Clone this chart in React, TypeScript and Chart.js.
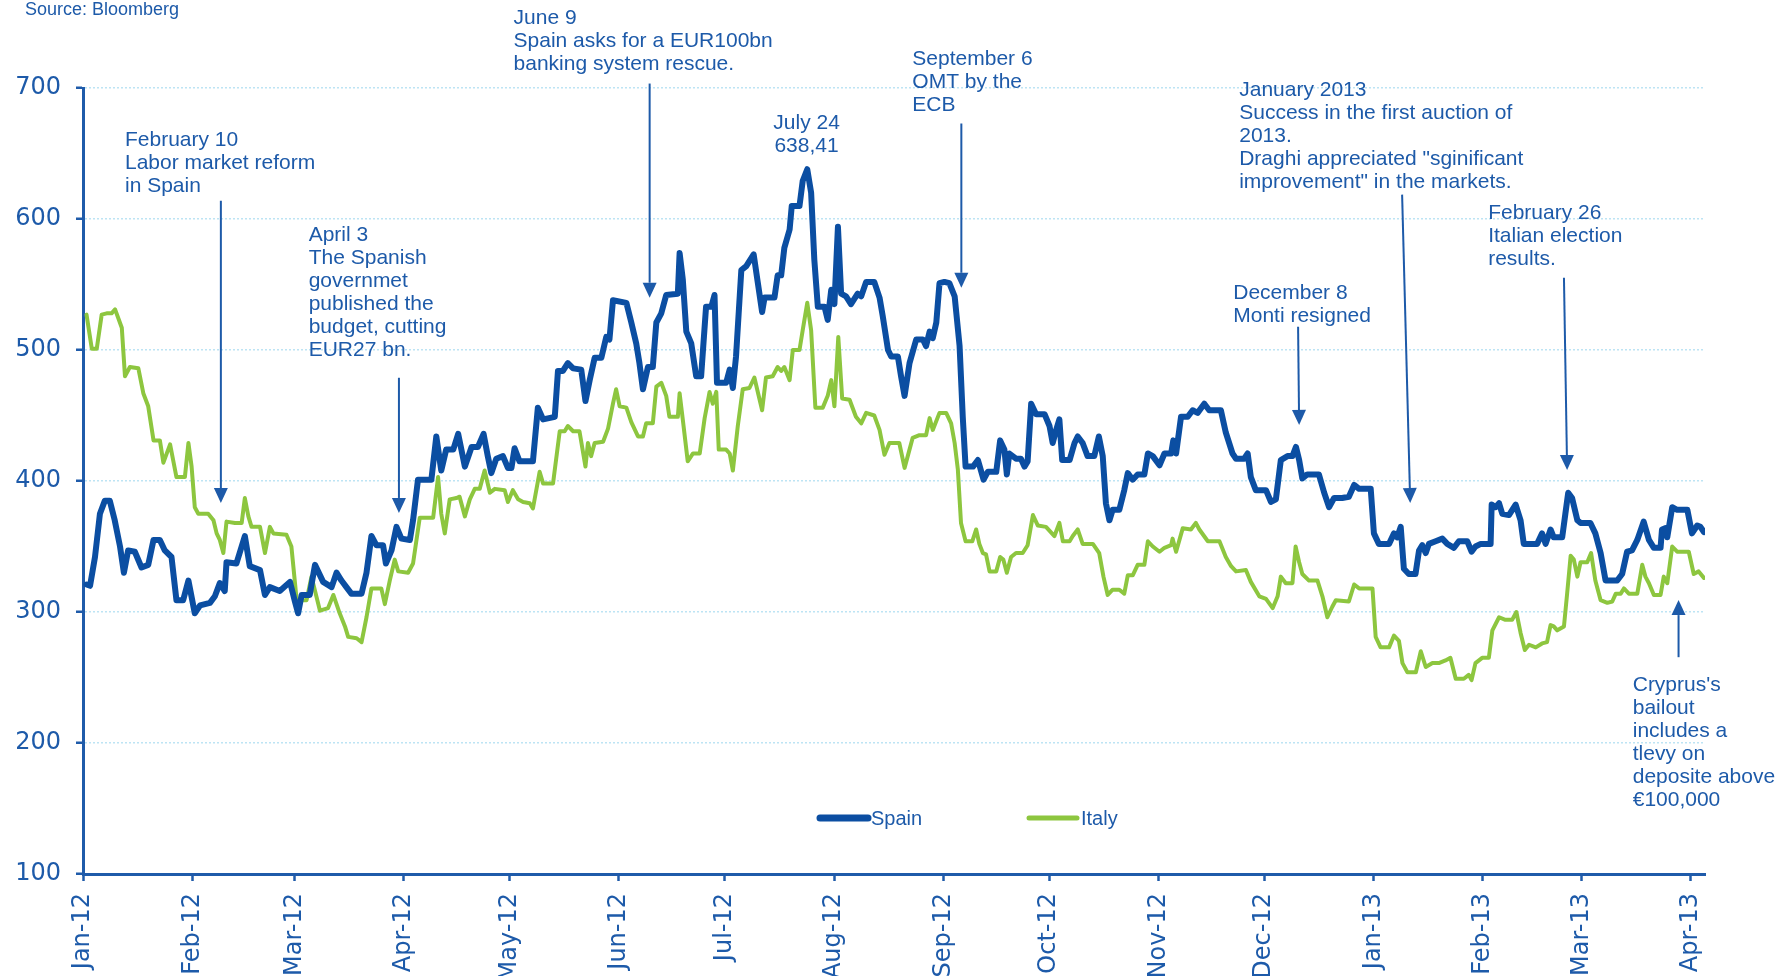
import React, { useEffect, useRef } from 'react';
import { Chart, registerables } from 'chart.js';

Chart.register(...registerables);

// ---- Data (days counted from 1 Jan 2012) ----
const monthTickDays = [0, 31, 60, 91, 121, 152, 182, 213, 244, 274, 305, 335, 366, 397, 425, 456];
const monthTickLabels = ['Jan-12', 'Feb-12', 'Mar-12', 'Apr-12', 'May-12', 'Jun-12', 'Jul-12', 'Aug-12', 'Sep-12', 'Oct-12', 'Nov-12', 'Dec-12', 'Jan-13', 'Feb-13', 'Mar-13', 'Apr-13'];

const spainDays = [
  1, 2, 3.4, 4.8, 6.2, 7.6, 9, 10.5, 11.6, 12.8,
  14.7, 16.6, 18.5, 20, 21.8, 23.2, 25.1, 26.5, 28.4, 29.9,
  31.7, 33.2, 36, 37.4, 38.8, 40.2, 40.7, 43.5, 45.9, 47.3,
  50.2, 51.6, 53, 55.8, 58.7, 60.1, 61, 62, 64.3, 65.8,
  68.1, 70.5, 71.9, 73.3, 74.7, 76.1, 79, 80.4, 81.8, 83.2,
  85.1, 85.9, 87.5, 88.9, 90.3, 92.7, 93.6, 95, 98.8, 100.2,
  101.6, 103, 105, 106.4, 108.3, 110.2, 112, 113.6, 114.8, 115.8,
  117.2, 119.1, 120.5, 121.5, 122.4, 123.8, 127.6, 129, 130.5, 133.8,
  134.7, 136.1, 137.5, 139, 141.3, 142.5, 143.7, 145.1, 147, 148.4,
  149.3, 150.3, 154.1, 155.5, 156.9, 157.8, 158.8, 160.2, 161.6, 162.6,
  164, 165.4, 168.7, 169.2, 170.1, 171.1, 172.5, 173.9, 175.3, 176.7,
  178.2, 179.1, 179.8, 182.4, 183.4, 184.3, 185.2, 186.7, 188.1, 190.2,
  191.4, 192.6, 193.3, 196.1, 197, 198, 198.9, 200.4, 201, 203.2,
  204.1, 205.4, 206.5, 207.4, 208.4, 210.3, 211.2, 212.2, 213.1, 214.1,
  215, 216.4, 217.8, 219.7, 220.7, 222.1, 224.4, 225.9, 226.8, 228.3,
  229.2, 231.1, 232, 233, 234.4, 236.3, 238.2, 239.1, 240.1, 241,
  242, 242.9, 244.3, 245.7, 247.2, 248.6, 249.5, 250.3, 252.4, 253.8,
  255.4, 256.6, 259, 260.1, 261.3, 262, 262.7, 264.6, 266, 267,
  267.9, 268.9, 270.3, 272.7, 274.1, 275, 276, 276.9, 277.7, 279.8,
  281.2, 282.1, 283.5, 284.9, 286.8, 288.1, 289.2, 290.1, 291.1, 292,
  293.9, 295.3, 296.3, 297.7, 299.1, 301, 302, 303.4, 305.3, 306.7,
  308.6, 309.2, 310, 311.4, 313.3, 314.7, 316.1, 318, 319.4, 322.7,
  324.1, 326, 327, 329.3, 330.3, 331.2, 332.6, 335.5, 336.9, 338.3,
  339.7, 341.6, 343, 344, 344.9, 345.8, 347.2, 350.5, 352, 353.4,
  354.8, 357.1, 359, 360.5, 361.9, 365.2, 366.1, 367.5, 370.4, 371.8,
  372.7, 373.7, 374.6, 376, 377.9, 378.9, 379.8, 380.8, 381.7, 383.6,
  385.5, 386.9, 388.8, 390.2, 392.6, 393.8, 394.9, 396.4, 399.2, 399.5,
  400.6, 401.6, 402.5, 404.4, 406.3, 407.7, 408.6, 412.4, 413.8, 414.8,
  416.2, 417.1, 419.5, 420.4, 421.2, 422.3, 423.8, 424.7, 427.5, 428.9,
  430.4, 431.8, 435.1, 436.5, 437.9, 439.3, 440.8, 442.6, 444.1, 445.5,
  447.4, 447.8, 448.8, 449.3, 450.7, 452.1, 455, 456.3, 457.8, 458.7,
  459.7,
];
const spainValues = [
  321, 320, 342, 375, 385, 385, 370, 350, 330, 347,
  346, 334, 336, 355, 355, 347, 342, 309, 309, 324,
  299, 305, 307, 312, 322, 316, 338, 337, 358, 335,
  332, 313, 319, 316, 323, 308, 299, 313, 313, 336,
  323, 319, 330, 324, 319, 314, 314, 330, 358, 351,
  351, 337, 347, 365, 356, 355, 370, 401, 401, 434,
  408, 424, 424, 436, 411, 426, 426, 436, 419, 406,
  417, 419, 410, 410, 425, 415, 415, 456, 447, 449,
  484, 484, 490, 486, 485, 461, 477, 494, 494, 510,
  508, 538, 536, 521, 505, 490, 470, 487, 487, 521,
  528, 542, 543, 574, 554, 514, 505, 480, 480, 533,
  533, 542, 475, 475, 485, 471, 495, 561, 564, 573,
  551, 529, 540, 540, 557, 557, 578, 592, 610, 610,
  629, 638, 620, 569, 533, 533, 523, 546, 535, 594,
  543, 541, 535, 543, 541, 552, 552, 540, 526, 500,
  495, 495, 480, 465, 490, 508, 508, 503, 514, 509,
  521, 551, 552, 551, 541, 503, 449, 411, 411, 416,
  401, 407, 407, 431, 424, 405, 421, 417, 417, 411,
  415, 459, 451, 451, 442, 429, 439, 447, 416, 416,
  429, 434, 429, 419, 419, 434, 419, 383, 370, 378,
  378, 393, 406, 401, 405, 405, 421, 419, 412, 421,
  421, 431, 421, 449, 449, 454, 452, 459, 454, 454,
  437, 421, 417, 417, 421, 403, 393, 393, 384, 386,
  416, 419, 419, 426, 416, 402, 405, 405, 391, 380,
  387, 387, 388, 397, 394, 394, 360, 352, 352, 360,
  357, 365, 333, 329, 329, 347, 351, 345, 352, 354,
  356, 352, 349, 354, 354, 346, 350, 352, 352, 382,
  380, 383, 375, 374, 382, 370, 352, 352, 360, 352,
  363, 357, 357, 375, 391, 387, 370, 368, 368, 360,
  345, 324, 324, 329, 346, 347, 355, 369, 355, 349,
  349, 363, 364, 357, 380, 378, 378, 360, 366, 365,
  361,
];

const italyDays = [
  1, 2.5, 3.9, 5.3, 6.7, 8.1, 9.1, 11, 11.9, 13.3,
  15.7, 17.1, 18.5, 20, 21.8, 22.8, 24.7, 26.5, 28.9, 29.9,
  30.8, 31.7, 32.7, 35.5, 37, 37.9, 38.8, 39.8, 40.7, 43.1,
  45, 45.9, 46.9, 47.8, 50.2, 51.6, 53, 54, 57.7, 59.1,
  60.6, 63.4, 64.8, 67.2, 69.5, 71, 72.8, 74.3, 75.2, 77.6,
  79, 80.4, 81.8, 84.6, 85.6, 87, 88.4, 89.4, 92.2, 93.6,
  95.5, 99.3, 100.7, 101.6, 102.6, 104, 105.9, 106.8, 108.3, 109.7,
  111.1, 112.5, 113.9, 115.4, 116.8, 119.6, 120.5, 121.9, 123.4, 124.8,
  126.7, 127.6, 129.5, 130.5, 133.3, 135.2, 136.6, 137.5, 139, 140.8,
  142.5, 143.2, 144.1, 145.1, 147.5, 148.9, 150.3, 151.2, 152.2, 154.1,
  155.5, 157.4, 158.8, 159.7, 161.6, 162.6, 164, 165.4, 166.3, 168.7,
  169.2, 170.1, 171.5, 173, 174.9, 176.3, 177.7, 178.6, 179.6, 180.3,
  182.4, 183.4, 184.3, 185.7, 187.1, 189, 190.4, 192.6, 193.7, 195.6,
  197, 198, 198.9, 200.4, 201.3, 203.2, 204.1, 205.4, 206.5, 207.7,
  209.8, 211.2, 212.2, 213.1, 214.2, 215.3, 217.4, 219.2, 220.7, 222.1,
  224.4, 225.9, 227.3, 228.7, 231.5, 233, 233.9, 235.3, 237.2, 239.1,
  240.1, 241, 242.9, 244.8, 246.2, 247.2, 248.1, 249, 250.3, 252.2,
  253.3, 254.2, 255.2, 256.1, 257.1, 259, 260.1, 261, 262, 263.2,
  264.6, 266.5, 267.9, 269.4, 270.8, 273.1, 275.5, 276.9, 277.9, 279.8,
  280.7, 282.1, 283.5, 286.4, 288.2, 289.4, 290.6, 292, 293.9, 295.3,
  296.3, 297.7, 299.1, 301, 302, 303.4, 305.3, 306.7, 308.6, 309,
  310, 311.9, 314.2, 315.6, 316.6, 319, 322.3, 324.1, 325.6, 327,
  329.8, 331.2, 333.6, 335.5, 337.4, 338.8, 339.7, 341.1, 343, 343.9,
  344.9, 345.8, 347.7, 350.1, 351.5, 352.9, 354.3, 355.3, 359, 360.5,
  361.9, 365.7, 366.6, 368, 370.4, 371.8, 373.2, 374.2, 375.6, 378,
  379.4, 380.8, 382.7, 384.5, 386.4, 387.8, 389.3, 391.6, 393, 393.8,
  394.9, 396.8, 398.7, 399.7, 401.6, 403.4, 405.3, 406.5, 407.7, 408.9,
  410.1, 412, 413.8, 415.2, 416.2, 417.1, 418.1, 420, 420.9, 421.9,
  422.8, 423.8, 424.7, 426.6, 427.7, 428.9, 430.4, 432.3, 433.7, 434.7,
  436.1, 437, 438.4, 440.8, 442.2, 443.1, 444.1, 445.5, 447.4, 448.3,
  449.3, 450.7, 452.1, 455.4, 456.8, 458.2, 459.7,
];
const italyValues = [
  527, 501, 501, 527, 528, 528, 531, 517, 480, 487,
  486, 467, 457, 431, 431, 414, 428, 403, 403, 429,
  411, 380, 375, 375, 370, 360, 355, 345, 369, 368,
  368, 387, 373, 365, 365, 345, 365, 360, 359, 350,
  309, 309, 327, 301, 303, 313, 299, 289, 281, 280,
  277, 296, 318, 318, 306, 324, 340, 331, 330, 337,
  372, 372, 403, 375, 360, 386, 387, 388, 373, 386,
  394, 394, 408, 391, 394, 393, 384, 393, 386, 384,
  383, 379, 407, 398, 398, 438, 438, 442, 438, 438,
  411, 429, 419, 429, 430, 440, 459, 470, 457, 456,
  445, 434, 434, 444, 444, 472, 475, 465, 449, 449,
  467, 447, 415, 421, 421, 448, 468, 459, 468, 424,
  424, 421, 408, 442, 470, 471, 479, 454, 479, 480,
  487, 484, 487, 477, 500, 500, 515, 536, 515, 456,
  456, 465, 477, 457, 510, 463, 462, 449, 444, 452,
  450, 439, 420, 429, 429, 410, 419, 433, 435, 435,
  448, 439, 452, 452, 444, 429, 409, 368, 354, 354,
  363, 352, 345, 344, 331, 331, 342, 340, 330, 342,
  345, 345, 351, 374, 366, 365, 358, 368, 354, 354,
  358, 363, 352, 352, 345, 327, 313, 317, 317, 314,
  328, 328, 336, 336, 354, 350, 346, 349, 351, 356,
  346, 364, 363, 368, 363, 354, 354, 342, 335, 331,
  332, 323, 312, 310, 303, 312, 327, 322, 322, 350,
  338, 329, 324, 324, 312, 296, 304, 309, 308, 321,
  318, 318, 281, 273, 273, 282, 278, 261, 254, 254,
  270, 258, 261, 261, 263, 265, 249, 249, 252, 248,
  261, 265, 265, 286, 296, 294, 294, 300, 284, 271,
  275, 273, 276, 277, 290, 289, 286, 289, 314, 343,
  340, 327, 338, 338, 345, 324, 309, 307, 308, 314,
  314, 318, 314, 314, 336, 327, 322, 313, 313, 327,
  322, 350, 346, 346, 329, 331, 326,
];

const seriesNames = ['Spain', 'Italy'];
const sourceText = 'Source: Bloomberg';

// ---- Annotations (anchored in data coordinates: day, value) ----
type Note = {
  lines: string[];
  day: number;
  value: number;
  align: CanvasTextAlign;
  arrowFrom?: [number, number];
  arrowTo?: [number, number];
};

const notes: Note[] = [
  { lines: ['February 10', 'Labor market reform', 'in Spain'], day: 11.9, value: 659.9, align: 'left', arrowFrom: [39.1, 614], arrowTo: [39.1, 383.2] },
  { lines: ['April 3', 'The Spanish', 'governmet', 'published the', 'budget, cutting', 'EUR27 bn.'], day: 64.0, value: 588.0, align: 'left', arrowFrom: [89.6, 478.8], arrowTo: [89.6, 375.6] },
  { lines: ['June 9', 'Spain asks for a EUR100bn', 'banking system rescue.'], day: 122.1, value: 753.1, align: 'left', arrowFrom: [160.7, 703.4], arrowTo: [160.7, 539.9] },
  { lines: ['July 24', '638,41'], day: 205.2, value: 672.9, align: 'center' },
  { lines: ['September 6', 'OMT by the', 'ECB'], day: 235.2, value: 721.8, align: 'left', arrowFrom: [249.1, 672.9], arrowTo: [249.1, 547.5] },
  { lines: ['January 2013', 'Success in the first auction of', '2013.', 'Draghi appreciated "sginificant', 'improvement" in the markets.'], day: 327.9, value: 698.1, align: 'left', arrowFrom: [374.1, 618.6], arrowTo: [376.4, 383.2] },
  { lines: ['December 8', 'Monti resigned'], day: 326.2, value: 543.7, align: 'left', arrowFrom: [344.6, 517.7], arrowTo: [344.9, 442.8] },
  { lines: ['February 26', 'Italian election', 'results.'], day: 398.5, value: 604.1, align: 'left', arrowFrom: [420, 555.2], arrowTo: [420.9, 408.4] },
  { lines: ["Cryprus's", 'bailout', 'includes a', 'tlevy on', 'deposite above', '€100,000'], day: 439.5, value: 244.1, align: 'left', arrowFrom: [452.5, 265.5], arrowTo: [452.5, 309.1] },
];

const TEXT_BLUE = '#1D5AA9';
const AXIS_BLUE = '#1F5BAA';
const SPAIN_COLOR = '#0B4EA2';
const ITALY_COLOR = '#8DC63F';
const GRID_COLOR = '#BDE4F4';
const NOTE_FONT = '21px "Liberation Sans", Arial, sans-serif';
const LINE_GAP = 23;

function drawArrow(ctx: CanvasRenderingContext2D, x1: number, y1: number, x2: number, y2: number) {
  const ang = Math.atan2(y2 - y1, x2 - x1);
  const head = 15;
  const half = 7;
  const bx = x2 - Math.cos(ang) * head;
  const by = y2 - Math.sin(ang) * head;
  ctx.beginPath();
  ctx.moveTo(x1, y1);
  ctx.lineTo(bx, by);
  ctx.stroke();
  ctx.beginPath();
  ctx.moveTo(x2, y2);
  ctx.lineTo(bx + Math.sin(ang) * half, by - Math.cos(ang) * half);
  ctx.lineTo(bx - Math.sin(ang) * half, by + Math.cos(ang) * half);
  ctx.closePath();
  ctx.fill();
}

const overlayPlugin = {
  id: 'overlay',
  afterDatasetsDraw(chart: any) {
    const { ctx, scales } = chart;
    const xs = scales.x;
    const ys = scales.y;
    ctx.save();
    ctx.fillStyle = TEXT_BLUE;
    ctx.strokeStyle = TEXT_BLUE;
    ctx.lineWidth = 2;
    ctx.font = NOTE_FONT;
    ctx.textBaseline = 'middle';
    for (const n of notes) {
      const tx = xs.getPixelForValue(n.day);
      const ty = ys.getPixelForValue(n.value);
      ctx.textAlign = n.align;
      n.lines.forEach((l, i) => ctx.fillText(l, tx, ty + i * LINE_GAP));
      if (n.arrowFrom && n.arrowTo) {
        drawArrow(
          ctx,
          xs.getPixelForValue(n.arrowFrom[0]),
          ys.getPixelForValue(n.arrowFrom[1]),
          xs.getPixelForValue(n.arrowTo[0]),
          ys.getPixelForValue(n.arrowTo[1])
        );
      }
    }

    // Source
    ctx.textAlign = 'left';
    ctx.font = '18px "Liberation Sans", Arial, sans-serif';
    ctx.fillText(sourceText, 25, 10);

    // Legend
    const legendY = 818;
    const items = [
      { name: seriesNames[0], color: SPAIN_COLOR, width: 7, x1: 820, x2: 868, tx: 871 },
      { name: seriesNames[1], color: ITALY_COLOR, width: 5, x1: 1029, x2: 1077, tx: 1081 },
    ];
    ctx.font = '20px "Liberation Sans", Arial, sans-serif';
    for (const it of items) {
      ctx.strokeStyle = it.color;
      ctx.lineWidth = it.width;
      ctx.lineCap = 'round';
      ctx.beginPath();
      ctx.moveTo(it.x1, legendY);
      ctx.lineTo(it.x2, legendY);
      ctx.stroke();
      ctx.fillStyle = TEXT_BLUE;
      ctx.fillText(it.name, it.tx, legendY + 1);
    }
    ctx.restore();
  },
};

export default function App() {
  const canvasRef = useRef<HTMLCanvasElement | null>(null);

  useEffect(() => {
    const canvas = canvasRef.current;
    if (!canvas) return;
    const spainData = spainDays.map((d, i) => ({ x: d, y: spainValues[i] }));
    const italyData = italyDays.map((d, i) => ({ x: d, y: italyValues[i] }));

    const chart = new Chart(canvas, {
      type: 'line',
      data: {
        datasets: [
          {
            label: seriesNames[0],
            data: spainData,
            borderColor: SPAIN_COLOR,
            borderWidth: 6,
            pointRadius: 0,
            tension: 0,
            borderJoinStyle: 'round',
            borderCapStyle: 'round',
            fill: false,
          },
          {
            label: seriesNames[1],
            data: italyData,
            borderColor: ITALY_COLOR,
            borderWidth: 4,
            pointRadius: 0,
            tension: 0,
            borderJoinStyle: 'round',
            borderCapStyle: 'round',
            fill: false,
          },
        ],
      },
      options: {
        responsive: false,
        animation: false,
        devicePixelRatio: 1,
        layout: { padding: { top: 88, right: 74, left: 0, bottom: 0 } },
        plugins: {
          legend: { display: false },
          tooltip: { enabled: false },
          title: { display: false },
        },
        scales: {
          x: {
            type: 'linear',
            min: 0,
            max: 460,
            afterBuildTicks: (axis: any) => {
              axis.ticks = monthTickDays.map((v) => ({ value: v }));
            },
            afterFit: (axis: any) => {
              axis.height = 102;
            },
            ticks: {
              autoSkip: false,
              minRotation: 90,
              maxRotation: 90,
              padding: 12,
              color: TEXT_BLUE,
              font: { family: '"DejaVu Sans"', size: 24 },
              callback: (value: any) => {
                const idx = monthTickDays.indexOf(Number(value));
                return idx >= 0 ? monthTickLabels[idx] : '';
              },
            },
            grid: {
              display: true,
              drawOnChartArea: false,
              drawTicks: true,
              tickLength: 7,
              tickColor: AXIS_BLUE,
              tickWidth: 2.5,
            },
            border: { display: true, color: AXIS_BLUE, width: 3 },
          },
          y: {
            min: 100,
            max: 700,
            afterFit: (axis: any) => {
              axis.width = 83;
            },
            ticks: {
              stepSize: 100,
              padding: 15,
              color: TEXT_BLUE,
              font: { family: '"DejaVu Sans"', size: 24 },
            },
            grid: {
              display: true,
              drawOnChartArea: true,
              color: GRID_COLOR,
              lineWidth: 1.5,
              drawTicks: true,
              tickLength: 7,
              tickColor: AXIS_BLUE,
              tickWidth: 2.5,
            },
            border: { display: true, color: AXIS_BLUE, width: 3, dash: [2, 2] },
          },
        },
      },
      plugins: [overlayPlugin],
    } as any);

    return () => {
      chart.destroy();
    };
  }, []);

  return (
    <div style={{ position: 'fixed', left: 0, top: 0, width: 1779, height: 976, background: '#ffffff' }}>
      <canvas ref={canvasRef} width={1779} height={976} style={{ display: 'block' }} />
    </div>
  );
}
